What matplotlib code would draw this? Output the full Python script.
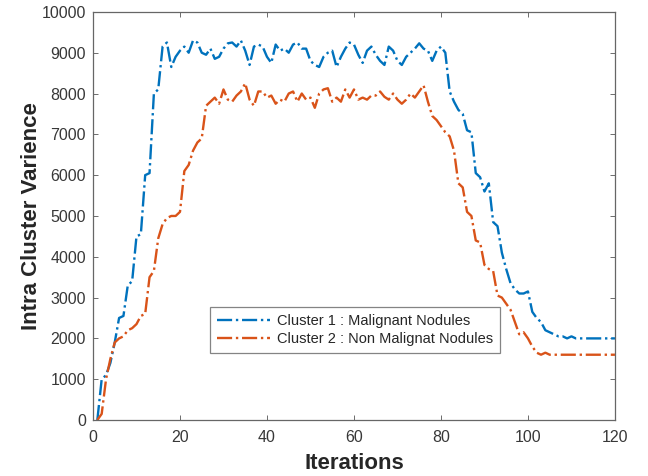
import numpy as np
import matplotlib
matplotlib.use('Agg')
import matplotlib.pyplot as plt

plt.rcParams['font.family'] = ['Liberation Sans', 'DejaVu Sans']

iterations = list(range(1, 121))

# Cluster 1 : Malignant Nodules
malignant = [
    0, 1000, 1100, 1400, 1900, 2500, 2550, 3300, 3400, 4500,
    4550, 6000, 6050, 8000, 8100, 9150, 9250, 8650, 8900, 9050,
    9150, 9000, 9300, 9250, 9000, 8950, 9100, 8850, 8900, 9100,
    9230, 9250, 9150, 9300, 9050, 8700, 9150, 9200, 9150, 8900,
    8750, 9200, 9050, 9100, 9000, 9200, 9250, 9100, 9100, 8800,
    8700, 8650, 8900, 9000, 9050, 8650, 8900, 9100, 9250, 9200,
    8950, 8750, 9050, 9150, 8950, 8800, 8700, 9150, 9050, 8800,
    8700, 8900, 9000, 9100, 9230, 9100, 9050, 8800, 9050, 9150,
    9000, 8050, 7800, 7600, 7500, 7100, 7050, 6050, 5950, 5600,
    5800, 4850, 4750, 4100, 3700, 3350, 3200, 3100, 3100, 3150,
    2650, 2500, 2400, 2200, 2150, 2100, 2050, 2050, 2000, 2050,
    2000, 2000, 2000, 2000, 2000, 2000, 2000, 2000, 2000, 2000,
]

# Cluster 2 : Non Malignat Nodules
non_malignant = [
    0, 150, 1000, 1500, 1900, 2000, 2050, 2200, 2250, 2350,
    2550, 2600, 3500, 3650, 4450, 4800, 4950, 5000, 5000, 5100,
    6100, 6250, 6600, 6800, 6900, 7700, 7800, 7900, 7750, 8100,
    7850, 7800, 7950, 8050, 8250, 7850, 7700, 8050, 8050, 7900,
    7950, 7750, 7850, 7800, 8000, 8050, 7800, 8000, 7850, 7900,
    7650, 8000, 8100, 8130, 7800, 7900, 7800, 8100, 7900, 8100,
    7850, 7900, 7850, 7950, 7950, 8050, 7920, 7850, 8000, 7850,
    7750, 7850, 8000, 7900, 8050, 8200, 7800, 7450, 7350, 7200,
    7050, 6950, 6600, 5800, 5700, 5100, 5000, 4400, 4350, 3800,
    3700, 3650, 3050, 3000, 2850, 2700, 2400, 2100, 2150, 2000,
    1800, 1650, 1600, 1650, 1600, 1600, 1600, 1600, 1600, 1600,
    1600, 1600, 1600, 1600, 1600, 1600, 1600, 1600, 1600, 1600,
]

fig = plt.figure(figsize=(6.48, 4.76), dpi=100)
ax = fig.add_axes([0.1435, 0.1176, 0.8055, 0.8574])

ax.plot(iterations, malignant, linestyle='-.', color='#0072BD', linewidth=1.7,
        label='Cluster 1 : Malignant Nodules')
ax.plot(iterations, non_malignant, linestyle='-.', color='#D95319', linewidth=1.7,
        label='Cluster 2 : Non Malignat Nodules')

ax.set_xlim(0, 120)
ax.set_ylim(0, 10000)
ax.set_xticks(np.arange(0, 121, 20))
ax.set_yticks(np.arange(0, 10001, 1000))

ax.tick_params(direction='in', top=True, right=True, length=3.5, width=0.6,
               colors='#555555', labelsize=11.5, labelcolor='#383838')
ax.tick_params(axis='x', pad=7)
ax.tick_params(axis='y', pad=5)
for s in ax.spines.values():
    s.set_color('#666666')
    s.set_linewidth(0.9)

ax.set_xlabel('Iterations', fontsize=16, fontweight='bold', color='#262626',
              labelpad=6)
ax.set_ylabel('Intra Cluster Varience', fontsize=16, fontweight='bold',
              color='#262626', labelpad=0)

leg = ax.legend(loc='center', bbox_to_anchor=(0.502, 0.22), fontsize=10.5,
                frameon=True, fancybox=False, handlelength=3.6, borderpad=0.45,
                labelspacing=0.3, handletextpad=0.5, borderaxespad=0)
leg.get_frame().set_edgecolor('#666666')
leg.get_frame().set_linewidth(0.9)
for t in leg.get_texts():
    t.set_color('#262626')

fig.savefig('out.png', dpi=100)
